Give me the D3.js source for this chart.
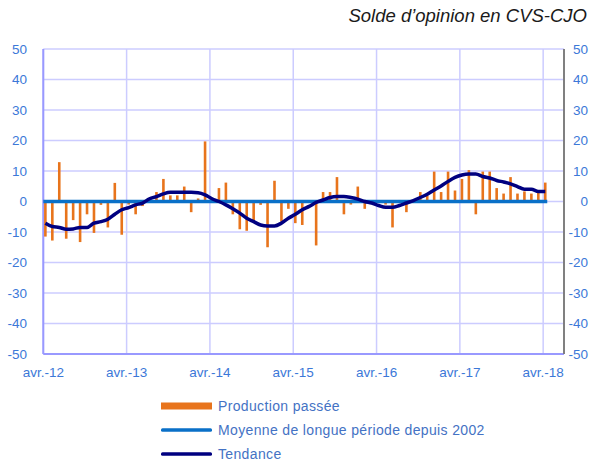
<!DOCTYPE html>
<html>
<head>
<meta charset="utf-8">
<script src="https://cdn.jsdelivr.net/npm/d3@7"></script>
<style>
  body { margin: 0; background: #fff; }
  svg { display: block; font-family: "Liberation Sans", Arial, sans-serif; }
</style>
</head>
<body>
<div id="chart"></div>
<script>
// months from avr. 2012 to juin 2018 (axis), data up to avr. 2018
var nMonths = 75;
var yearLabels = ["avr.-12", "avr.-13", "avr.-14", "avr.-15", "avr.-16", "avr.-17", "avr.-18"];
var yTicks = [50, 40, 30, 20, 10, 0, -10, -20, -30, -40, -50];

var production = [
  -11.5, -12.8, 12.9, -12.2, -6.1, -13.3, -4.2, -10.3, -1.1, -8.5, 6.1, -10.9,
  -1, -4.2, -1.5, 1, 3.1, 7.4, 2, 2, 4.9, -3.5, 1, 19.7,
  1, 4.4, 6.2, -4.2, -9.1, -9.6, -6.6, -1.1, -15, 6.8, -6.6, -2.4,
  -7.1, -7.7, -0.5, -14.4, 3.1, 3.1, 8, -4.2, -1, 4.9, -2.4, 0.3,
  0.5, -1, -8.5, 0.5, -3.5, 0.5, 3.1, 2, 9.8, 3.1, 9.8, 3.6,
  7.4, 10.3, -4.2, 9.8, 9.8, 4.4, 2.6, 8, 2.6, 3.3, 2.6, 3.3,
  6.2
];
var tendance = [
  -7.1, -8.2, -8.5, -9.1, -9.0, -8.5, -8.5, -7.1, -6.6, -5.8, -4.2, -2.7,
  -2.0, -1.1, -0.5, 0.9, 1.6, 2.5, 3.0, 3.0, 3.0, 3.0, 2.9, 2.2,
  0.9, 0.0, -1.1, -2.4, -3.8, -5.5, -6.6, -7.7, -8.0, -8.0, -7.1, -5.5,
  -4.2, -2.7, -1.6, -0.3, 0.5, 1.3, 1.6, 1.6, 1.3, 0.8, 0.0, -0.5,
  -1.3, -1.9, -1.9, -1.3, -0.5, 0.3, 1.3, 2.4, 3.8, 5.1, 6.6, 7.9,
  8.7, 9.0, 9.0, 8.2, 7.7, 6.9, 6.4, 5.8, 4.9, 4.0, 4.0, 3.3, 3.3
];
var moyenne = 0;

var legendItems = [
  {label: "Production passée", color: "#E8741C", h: 7},
  {label: "Moyenne de longue période depuis 2002", color: "#0A70C8", h: 3.5},
  {label: "Tendance", color: "#000080", h: 3.5}
];

var W = 601, H = 466;
var svg = d3.select("#chart").append("svg").attr("width", W).attr("height", H);

var x = d3.scaleBand().domain(d3.range(nMonths)).range([43.3, 564]).paddingInner(0).paddingOuter(0);
var y = d3.scaleLinear().domain([-50, 50]).range([354, 49]);
var step = x.step();
var cx = function(i){ return x(i) + step*0.3; };

// title
svg.append("text")
  .attr("x", 587).attr("y", 22)
  .attr("text-anchor", "end")
  .style("font-style", "italic")
  .style("font-size", "18.5px")
  .style("fill", "#1a1a1a")
  .text("Solde d\u2019opinion en CVS-CJO");

// horizontal grid
svg.append("g").selectAll("line")
  .data(yTicks)
  .enter().append("line")
  .attr("x1", x.range()[0]).attr("x2", x.range()[1])
  .attr("y1", function(d){return y(d);}).attr("y2", function(d){return y(d);})
  .style("stroke", "#CCCCFF").style("stroke-width", 1.5);

// vertical grid
svg.append("g").selectAll("line")
  .data(yearLabels)
  .enter().append("line")
  .attr("x1", function(d,i){return x(i*12);}).attr("x2", function(d,i){return x(i*12);})
  .attr("y1", y(50)).attr("y2", y(-50))
  .style("stroke", "#CCCCFF").style("stroke-width", 1.5);

// axes lines
svg.append("line")
  .attr("x1", x.range()[0]).attr("x2", x.range()[0]).attr("y1", y(50)).attr("y2", y(-50))
  .style("stroke", "#9999FF").style("stroke-width", 2);
svg.append("line")
  .attr("x1", x.range()[0]).attr("x2", x.range()[1]).attr("y1", y(-50)).attr("y2", y(-50))
  .style("stroke", "#9999FF").style("stroke-width", 2);
svg.append("line")
  .attr("x1", x.range()[1]).attr("x2", x.range()[1]).attr("y1", y(50)).attr("y2", y(-50))
  .style("stroke", "#808080").style("stroke-width", 2);

// y labels
var labelColor = "#3C78D8";
svg.append("g").selectAll("text")
  .data(yTicks)
  .enter().append("text")
  .attr("x", 27).attr("y", function(d){return y(d);})
  .attr("dy", "0.35em").attr("text-anchor", "end")
  .style("font-size", "13.5px").style("fill", labelColor)
  .text(function(d){return d;});
svg.append("g").selectAll("text")
  .data(yTicks)
  .enter().append("text")
  .attr("x", 588).attr("y", function(d){return y(d);})
  .attr("dy", "0.35em").attr("text-anchor", "end")
  .style("font-size", "13.5px").style("fill", labelColor)
  .text(function(d){return d;});

// x labels
svg.append("g").selectAll("text")
  .data(yearLabels)
  .enter().append("text")
  .attr("x", function(d,i){return x(i*12);}).attr("y", 377)
  .attr("text-anchor", "middle")
  .style("font-size", "13.5px").style("fill", labelColor)
  .text(function(d){return d;});

// bars
var barW = 2.6;
svg.append("g").selectAll("rect")
  .data(production)
  .enter().append("rect")
  .attr("x", function(d,i){return cx(i) - barW/2;})
  .attr("width", barW)
  .attr("y", function(d){return y(Math.max(0,d));})
  .attr("height", function(d){return Math.abs(y(d) - y(0));})
  .style("fill", "#E8741C");

// moyenne
svg.append("line")
  .attr("x1", x.range()[0]).attr("x2", cx(production.length-1) + 2)
  .attr("y1", y(moyenne)).attr("y2", y(moyenne))
  .style("stroke", "#0A70C8").style("stroke-width", 3.5);

// tendance
var line = d3.line()
  .x(function(d,i){return cx(i);})
  .y(function(d){return y(d);})
  .curve(d3.curveMonotoneX);
svg.append("path")
  .datum(tendance)
  .attr("d", line)
  .style("fill", "none").style("stroke", "#000080").style("stroke-width", 3.5)
  .style("stroke-linejoin", "round");

// legend
var lg = svg.append("g");
legendItems.forEach(function(d,i){
  var yy = 406 + i*24;
  lg.append("rect")
    .attr("x", 161).attr("y", yy - d.h/2)
    .attr("width", 51).attr("height", d.h)
    .attr("rx", d.h < 5 ? 1.5 : 0)
    .style("fill", d.color);
  lg.append("text")
    .attr("x", 218).attr("y", yy).attr("dy", "0.35em")
    .style("font-size", "14px").style("letter-spacing", "0.35px")
    .style("fill", "#4472C4")
    .text(d.label);
});
</script>
</body>
</html>
